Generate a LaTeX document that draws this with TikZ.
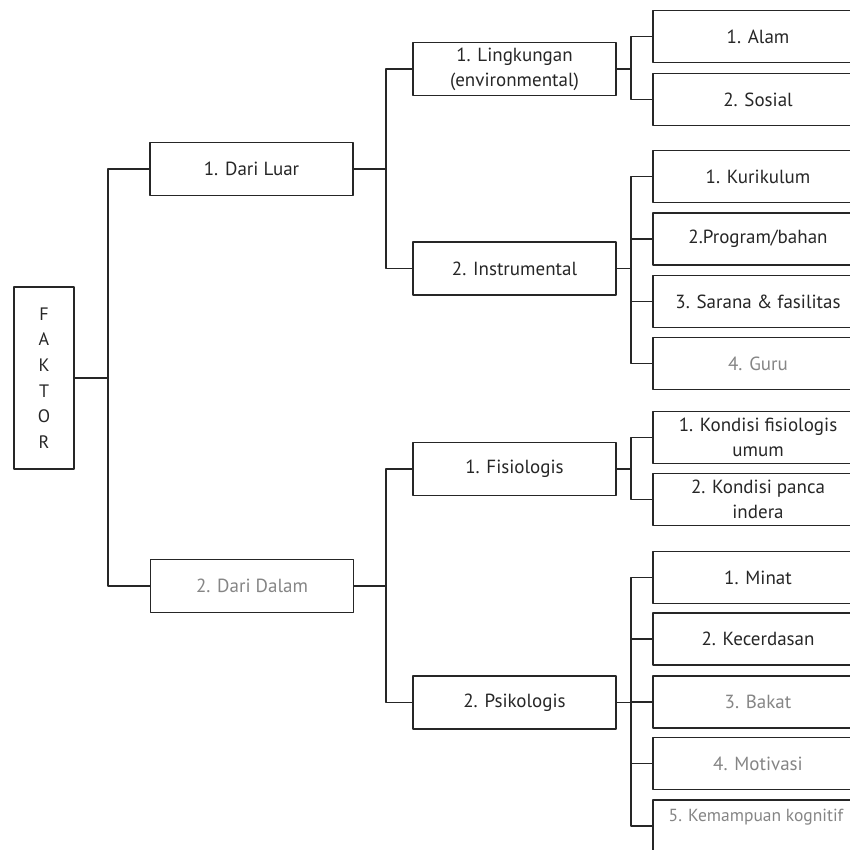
\documentclass[tikz,border=0pt]{standalone}
\usepackage{fontspec}
\setsansfont{PT Sans}
\definecolor{ink}{HTML}{262626}
\definecolor{faint}{HTML}{858585}
\begin{document}
\begin{tikzpicture}[x=1pt,y=-1pt,line join=round,font=\sffamily\fontsize{19}{25}\selectfont,
  box/.style={draw=ink,line width=1.7pt,minimum width=203pt,minimum height=53pt,align=center,text=ink,inner sep=2pt},
  leaf/.style={box,minimum width=210pt,minimum height=52pt},
  pale/.style={text=faint},
  link/.style={draw=ink,line width=1.6pt}]
\useasboundingbox (0,0) rectangle (849,850);
% root and first level
\node[box,minimum width=60pt,minimum height=182pt,font=\sffamily\fontsize{18}{25.6}\selectfont] (faktor) at (44,378) {F\\A\\K\\T\\O\\R};
\node[box] (luar) at (251.5,169) {1. Dari Luar};
\node[box,pale] (dalam) at (252,586) {2. Dari Dalam};
% second level
\node[box] (lingk) at (514.5,69) {1. Lingkungan\\(environmental)};
\node[box] (instr) at (514.5,268.5) {2. Instrumental};
\node[box] (fisio) at (514.5,469) {1. Fisiologis};
\node[box] (psiko) at (514.5,702.5) {2. Psikologis};
% leaves
\foreach \n/\y/\c/\t in {alam/36.5/ink/1. Alam, sosial/99.5/ink/2. Sosial,
  kur/176.5/ink/1. Kurikulum, prog/239/ink/{2.Program/bahan}, sar/301.5/ink/3. Sarana \& fasilitas, guru/363.5/faint/4. Guru,
  kona/437.5/ink/{1. Kondisi fisiologis\\umum}, konb/499.5/ink/{2. Kondisi panca\\indera},
  minat/577.5/ink/1. Minat, kec/639/ink/2. Kecerdasan, bakat/702/faint/3. Bakat, motiv/763.5/faint/4. Motivasi}
  \node[leaf,text=\c] (\n) at (758,\y) {\t};
\node[leaf,label={[faint,yshift=9pt,xshift=-2pt,font=\sffamily\fontsize{17.5}{25}\selectfont]center:5. Kemampuan kognitif}] (kem) at (758,826) {};
% connectors
\coordinate (s0) at (108,378);
\coordinate (s1) at (386,169);
\coordinate (s2) at (386,586);
\coordinate (s3) at (631,69);
\coordinate (s4) at (631,268.5);
\coordinate (s5) at (631,469);
\coordinate (s6) at (631,702.5);
\draw[link] (faktor) -- (s0) (luar) -| (s0) |- (dalam);
\draw[link] (luar) -- (s1) (lingk) -| (s1) |- (instr);
\draw[link] (dalam) -- (s2) (fisio) -| (s2) |- (psiko);
\draw[link] (lingk) -- (s3) (alam) -| (s3) |- (sosial);
\draw[link] (instr) -- (s4) (fisio) -- (s5) (psiko) -- (s6);
\foreach \c in {kur,prog,sar,guru} \draw[link] (s4) |- (\c);
\foreach \c in {kona,konb} \draw[link] (s5) |- (\c);
\foreach \c in {minat,kec,bakat,motiv,kem} \draw[link] (s6) |- (\c);
\end{tikzpicture}
\end{document}
